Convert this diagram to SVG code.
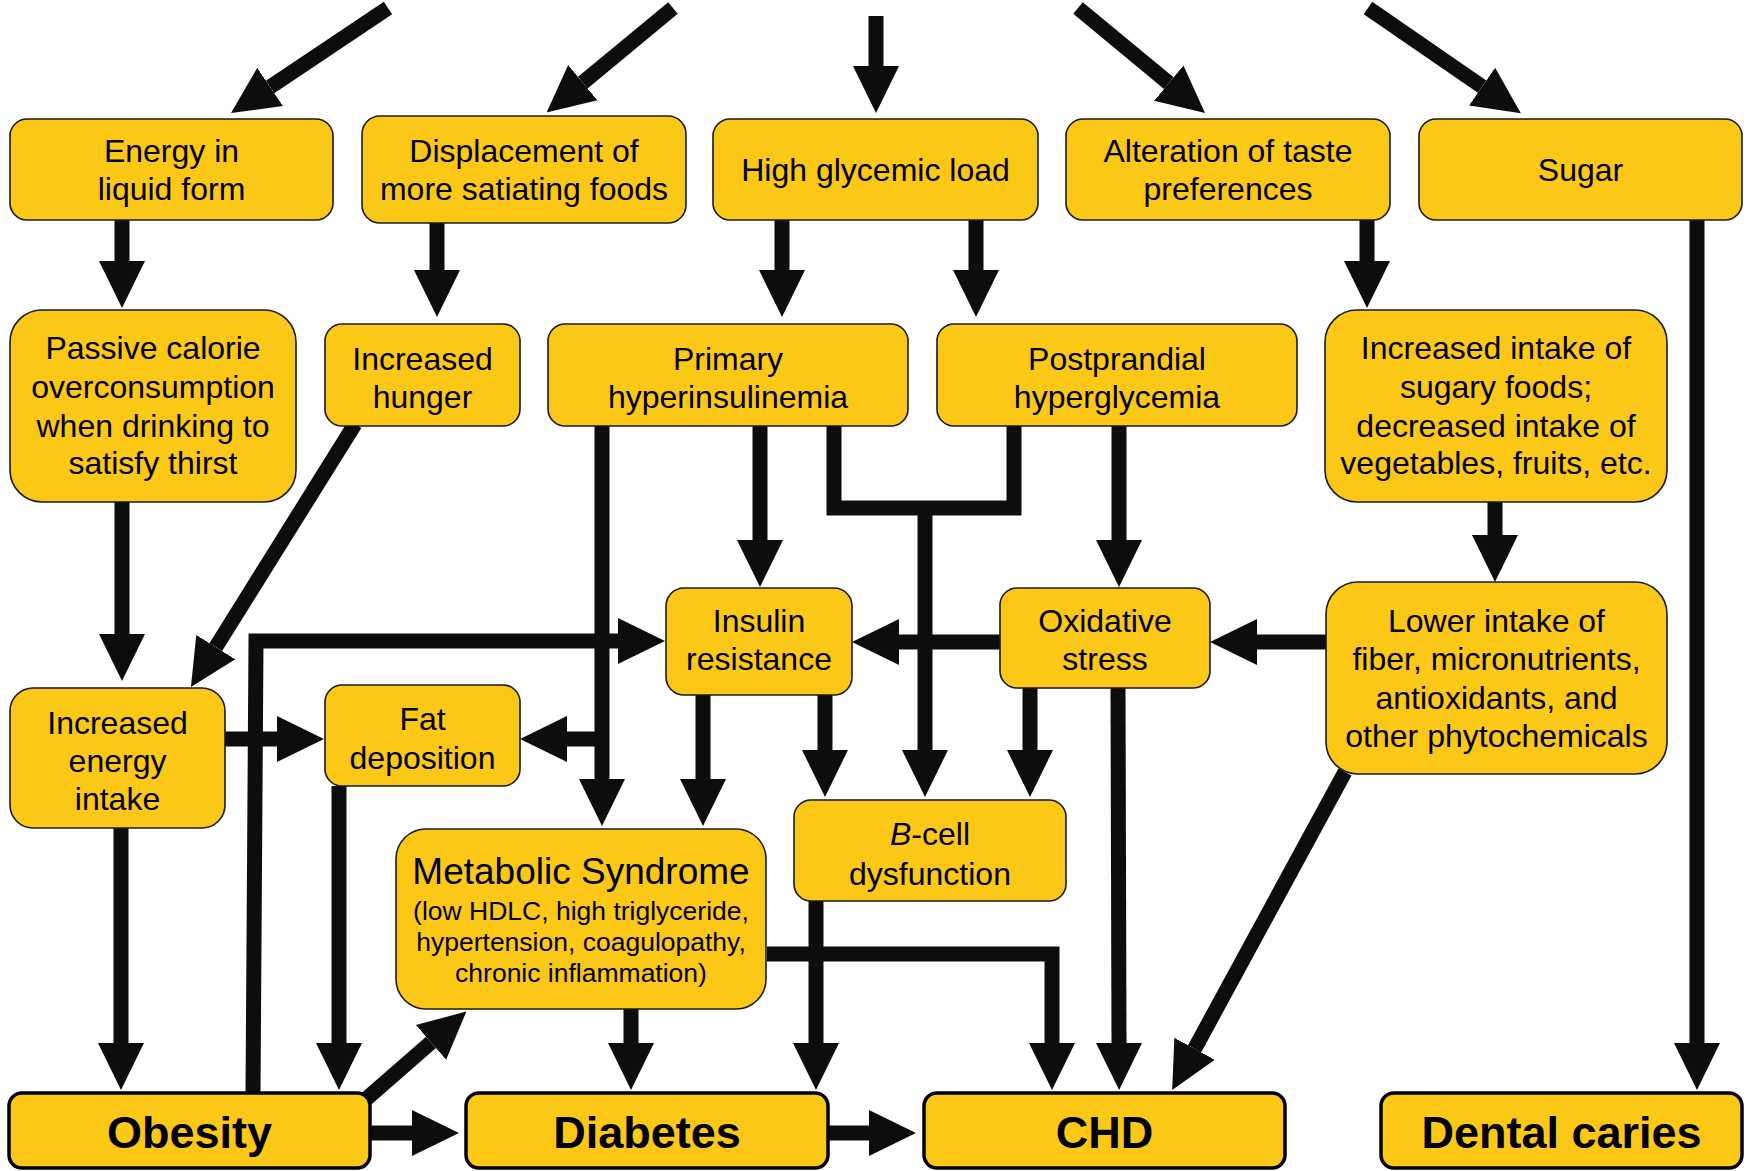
<svg xmlns="http://www.w3.org/2000/svg" width="1748" height="1171" viewBox="0 0 1748 1171">
<style>
.c{fill:none;stroke:#0d0d0d;stroke-width:15;stroke-linejoin:miter;stroke-miterlimit:10}
.a{marker-end:url(#ah)}
.n{fill:#fcc818;stroke:#1a1a1a;stroke-width:1.6}
.b{fill:#fcc818;stroke:#000;stroke-width:3.5}
.t{font-family:"Liberation Sans",Arial,sans-serif;font-size:32px;fill:#000;text-anchor:middle}
.tb{font-family:"Liberation Sans",Arial,sans-serif;font-size:45px;font-weight:bold;fill:#000;text-anchor:middle}
.tm{font-family:"Liberation Sans",Arial,sans-serif;font-size:37px;fill:#000;text-anchor:middle}
.ts{font-family:"Liberation Sans",Arial,sans-serif;font-size:26.5px;fill:#000;text-anchor:middle}
</style>
<defs>
<marker id="ah" markerUnits="userSpaceOnUse" markerWidth="47" markerHeight="48" viewBox="0 -24 47 48" refX="0" refY="0" orient="auto">
<path d="M0,-23 L47,0 L0,23 z" fill="#0d0d0d"/>
</marker>
</defs>
<rect width="1748" height="1171" fill="#fff"/>
<g id="connectors">
<path class="c a" d="M388,8 L270.1,86.9"/>
<path class="c a" d="M673,8 L582.8,82.6"/>
<path class="c a" d="M876,16 L876,66"/>
<path class="c a" d="M1078,8 L1168.8,83.1"/>
<path class="c a" d="M1368,8 L1482.1,86.6"/>
<path class="c a" d="M122,220 L122,261"/>
<path class="c a" d="M437,223 L437,270"/>
<path class="c a" d="M782,220 L782,270"/>
<path class="c a" d="M976,220 L976,270"/>
<path class="c a" d="M1367,220 L1367,261"/>
<path class="c a" d="M1697,220 L1697,1043"/>
<path class="c a" d="M122,502 L122,634"/>
<path class="c a" d="M355,424 L215.8,647.1"/>
<path class="c a" d="M602,426 L602,779"/>
<path class="c a" d="M602,739 L567,739"/>
<path class="c a" d="M760,426 L760,540"/>
<path class="c" d="M834,420 L834,508 L1014,508 L1014,420"/>
<path class="c a" d="M925,508 L925,750"/>
<path class="c a" d="M1119,426 L1119,540"/>
<path class="c a" d="M1495,502 L1495,535"/>
<path class="c a" d="M1326,642 L1257,642"/>
<path class="c a" d="M1000,642 L899,642"/>
<path class="c a" d="M253,1093 L256,641 L618,641"/>
<path class="c a" d="M225,739 L277,739"/>
<path class="c a" d="M703,695 L703,779"/>
<path class="c a" d="M825,695 L825,750"/>
<path class="c a" d="M1030,688 L1030,750"/>
<path class="c a" d="M1118,688 L1119,1043"/>
<path class="c a" d="M1345,772 L1194.6,1048.8"/>
<path class="c a" d="M339,786 L339,1043"/>
<path class="c a" d="M121,827 L121,1043"/>
<path class="c a" d="M365,1100 L431,1042.4"/>
<path class="c a" d="M370,1133 L412,1133"/>
<path class="c a" d="M631,1009 L631,1043"/>
<path class="c a" d="M816,900 L816,1043"/>
<path class="c a" d="M767,954 L1052,954 L1052,1043"/>
<path class="c a" d="M827,1133 L869,1133"/>
</g>
<g id="energy-liquid"><rect class="n" x="10" y="119" width="323" height="101" rx="17"/><text class="t" x="171.5" y="162">Energy in</text><text class="t" x="171.5" y="200">liquid form</text></g>
<g id="displacement"><rect class="n" x="362" y="116" width="324" height="107" rx="18"/><text class="t" x="524" y="162">Displacement of</text><text class="t" x="524" y="200">more satiating foods</text></g>
<g id="high-glycemic"><rect class="n" x="713" y="119" width="325" height="101" rx="17"/><text class="t" x="875.5" y="181">High glycemic load</text></g>
<g id="alteration"><rect class="n" x="1066" y="119" width="324" height="101" rx="17"/><text class="t" x="1228" y="162">Alteration of taste</text><text class="t" x="1228" y="200">preferences</text></g>
<g id="sugar"><rect class="n" x="1419" y="119" width="323" height="101" rx="17"/><text class="t" x="1580.5" y="181">Sugar</text></g>
<g id="passive"><rect class="n" x="10" y="310" width="286" height="192" rx="32"/><text class="t" x="153" y="359">Passive calorie</text><text class="t" x="153" y="398">overconsumption</text><text class="t" x="153" y="436.5">when drinking to</text><text class="t" x="153" y="474">satisfy thirst</text></g>
<g id="hunger"><rect class="n" x="325" y="324" width="195" height="102" rx="17"/><text class="t" x="422.5" y="369.5">Increased</text><text class="t" x="422.5" y="408">hunger</text></g>
<g id="hyperinsulinemia"><rect class="n" x="548" y="324" width="360" height="102" rx="17"/><text class="t" x="728" y="369.5">Primary</text><text class="t" x="728" y="408">hyperinsulinemia</text></g>
<g id="hyperglycemia"><rect class="n" x="937" y="324" width="360" height="102" rx="17"/><text class="t" x="1117" y="369.5">Postprandial</text><text class="t" x="1117" y="408">hyperglycemia</text></g>
<g id="sugary-intake"><rect class="n" x="1325" y="310" width="342" height="192" rx="32"/><text class="t" x="1496" y="359">Increased intake of</text><text class="t" x="1496" y="398">sugary foods;</text><text class="t" x="1496" y="436.5">decreased intake of</text><text class="t" x="1496" y="474">vegetables, fruits, etc.</text></g>
<g id="insulin-resistance"><rect class="n" x="666" y="588" width="186" height="107" rx="18"/><text class="t" x="759" y="632">Insulin</text><text class="t" x="759" y="670">resistance</text></g>
<g id="oxidative"><rect class="n" x="1000" y="588" width="210" height="100" rx="17"/><text class="t" x="1105" y="632">Oxidative</text><text class="t" x="1105" y="670">stress</text></g>
<g id="lower-intake"><rect class="n" x="1326" y="582" width="341" height="192" rx="32"/><text class="t" x="1496.5" y="632">Lower intake of</text><text class="t" x="1496.5" y="670">fiber, micronutrients,</text><text class="t" x="1496.5" y="708.5">antioxidants, and</text><text class="t" x="1496.5" y="747">other phytochemicals</text></g>
<g id="energy-intake"><rect class="n" x="10" y="688" width="215" height="140" rx="23"/><text class="t" x="117.5" y="733.5">Increased</text><text class="t" x="117.5" y="772">energy</text><text class="t" x="117.5" y="810">intake</text></g>
<g id="fat"><rect class="n" x="325" y="685" width="195" height="101" rx="17"/><text class="t" x="422.5" y="730">Fat</text><text class="t" x="422.5" y="768.5">deposition</text></g>
<g id="metabolic"><rect class="n" x="396" y="829" width="370" height="180" rx="30"/><text class="tm" x="581" y="883.5">Metabolic Syndrome</text><text class="ts" x="581" y="919.5">(low HDLC, high triglyceride,</text><text class="ts" x="581" y="951">hypertension, coagulopathy,</text><text class="ts" x="581" y="982">chronic inflammation)</text></g>
<g id="bcell"><rect class="n" x="794" y="800" width="272" height="101" rx="17"/><text class="t" x="930" y="845"><tspan font-style="italic">B</tspan>-cell</text><text class="t" x="930" y="884.5">dysfunction</text></g>
<g id="obesity"><rect class="b" x="9" y="1093" width="361" height="75" rx="13"/><text class="tb" x="189.5" y="1148">Obesity</text></g>
<g id="diabetes"><rect class="b" x="466" y="1093" width="362" height="75" rx="13"/><text class="tb" x="647" y="1148">Diabetes</text></g>
<g id="chd"><rect class="b" x="924" y="1093" width="361" height="75" rx="13"/><text class="tb" x="1104.5" y="1148">CHD</text></g>
<g id="dental"><rect class="b" x="1381" y="1093" width="361" height="75" rx="13"/><text class="tb" x="1561.5" y="1148">Dental caries</text></g>
</svg>
